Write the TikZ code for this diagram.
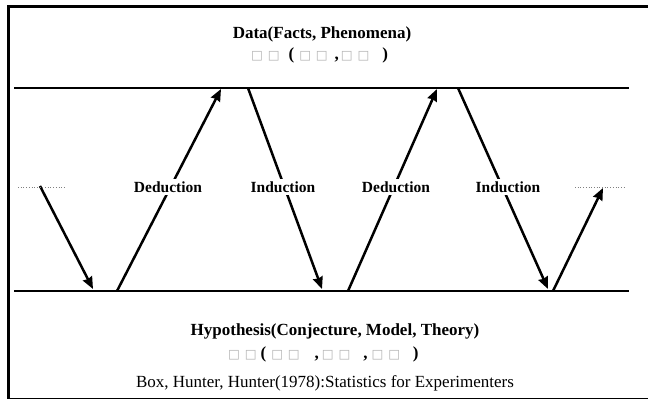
\documentclass[tikz,border=0pt]{standalone}
\usepackage{fontspec}
\setmainfont{Liberation Serif}
\newfontfamily\boxfont{DejaVu Sans}
\usetikzlibrary{arrows.meta}
\tikzset{
  % the two level lines (data above, hypothesis below)
  level line/.style={line width=2.5pt},
  % arrows going back and forth between the levels
  zig arrow/.style={line width=2.5pt,-{Stealth[length=12pt,width=10pt,inset=1pt]}},
  % dotted continuation on the left and right
  cont line/.style={gray,dotted,line width=0.7pt},
  zig label/.style={font=\bfseries\fontsize{15.5}{17}\selectfont,fill=white,inner sep=2.5pt},
  head label/.style={font=\bfseries\fontsize{17}{19}\selectfont},
  box line/.style={font=\bfseries\fontsize{17}{19}\selectfont,anchor=west,inner sep=0pt},
}
% empty boxes, one full-width place each
\newcommand{\tofu}{\makebox[16.7pt][l]{\color{gray!60}\boxfont\fontsize{12.5}{14}\selectfont □}}

\begin{document}
\begin{tikzpicture}[x=1pt,y=-1pt]
\useasboundingbox (0,0) rectangle (648,399);
% frame
\draw[line width=3pt] (648,6) -- (8.5,6) -- (8.5,399);
\draw[line width=1pt] (8.5,398.5) -- (648,398.5);
% levels
\coordinate (DL) at (14,88);
\coordinate (DR) at (629,88);
\coordinate (HL) at (14,291);
\coordinate (HR) at (629,291);
\draw[level line] (DL) -- (DR);
\draw[level line] (HL) -- (HR);
% end points of the arrows
\coordinate (p0) at (40,186);
\coordinate (h1) at (93,289);
\coordinate (h2) at (117,291);
\coordinate (d1) at (221,89);
\coordinate (d2) at (248,88);
\coordinate (h3) at (322,289);
\coordinate (h4) at (348,291);
\coordinate (d3) at (437,89);
\coordinate (d4) at (458,88);
\coordinate (h5) at (548,289);
\coordinate (h6) at (553,291);
\coordinate (p1) at (603,188);
\draw[zig arrow] (p0) -- (h1);
\draw[zig arrow] (h2) -- (d1);
\draw[zig arrow] (d2) -- (h3);
\draw[zig arrow] (h4) -- (d3);
\draw[zig arrow] (d4) -- (h5);
\draw[zig arrow] (h6) -- (p1);
% dotted continuation
\coordinate (c0) at (18,187);
\coordinate (c1) at (66,187);
\coordinate (c2) at (575,187);
\coordinate (c3) at (626,187);
\draw[cont line] (c0) -- (c1);
\draw[cont line] (c2) -- (c3);
% labels
\node[zig label] (ded1) at (168,187) {Deduction};
\node[zig label] (ind1) at (283,187) {Induction};
\node[zig label] (ded2) at (396,187) {Deduction};
\node[zig label] (ind2) at (508,187) {Induction};
\node[head label] (data) at (322,34) {Data(Facts, Phenomena)};
\node[box line] (dataj) at (251,55) {\tofu\tofu\hspace{4pt}(\hspace{5pt}\tofu\tofu\hspace{2pt},\hspace{2pt}\tofu\tofu\hspace{8pt})};
\node[head label] (hyp) at (335,331) {Hypothesis(Conjecture, Model, Theory)};
\node[box line] (hypj) at (228,354) {\tofu\tofu\hspace{-1pt}(\hspace{5pt}\tofu\tofu\hspace{10pt},\hspace{3pt}\tofu\tofu\hspace{8pt},\hspace{4pt}\tofu\tofu\hspace{8pt})};
\node[font=\fontsize{17}{19}\selectfont] (src) at (325,383) {Box, Hunter, Hunter(1978):Statistics for Experimenters};
\end{tikzpicture}
\end{document}
